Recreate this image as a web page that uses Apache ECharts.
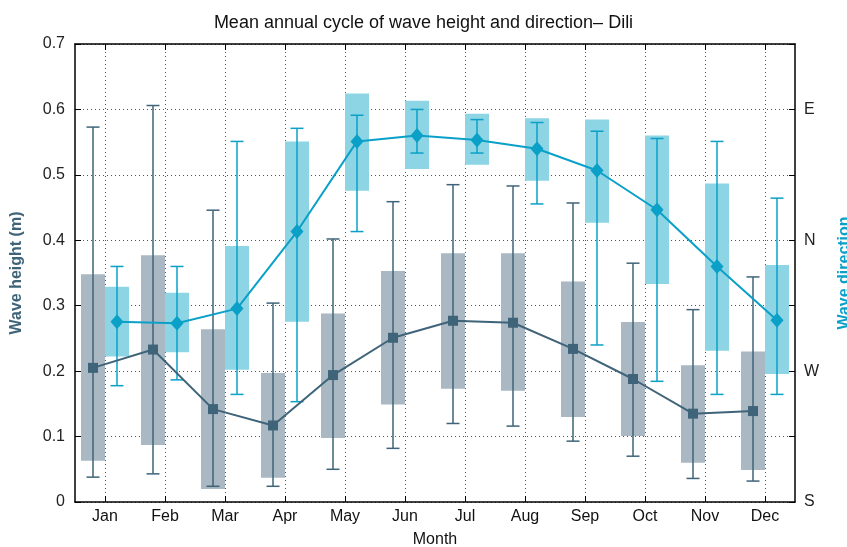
<!DOCTYPE html>
<html>
<head>
<meta charset="utf-8">
<script src="https://cdn.jsdelivr.net/npm/echarts@6/dist/echarts.min.js"></script>
<style>html,body{margin:0;padding:0;background:#fff}#c{width:847px;height:547px}</style>
</head>
<body>
<div id="c"></div>
<script>
const months = ['Jan','Feb','Mar','Apr','May','Jun','Jul','Aug','Sep','Oct','Nov','Dec'];
// Wave height (m)
const hMedian = [0.205,0.233,0.142,0.117,0.194,0.251,0.277,0.274,0.234,0.188,0.135,0.139];
const hBoxLow = [0.063,0.087,0.020,0.037,0.098,0.149,0.173,0.170,0.130,0.101,0.060,0.049];
const hBoxHigh = [0.348,0.377,0.264,0.197,0.288,0.353,0.380,0.380,0.337,0.275,0.209,0.230];
const hWhiskLow = [0.038,0.043,0.024,0.024,0.050,0.082,0.120,0.116,0.093,0.070,0.036,0.032];
const hWhiskHigh = [0.573,0.606,0.446,0.304,0.402,0.459,0.485,0.483,0.457,0.365,0.294,0.344];
// Wave direction (degrees, unwrapped: S=180, W=270, N=360, E=450)
const dMean = [304,303,313,366,428,432,429,423,408,381,342,305];
const dBoxLow = [280,283,271,304,394,409,412,401,372,330,284,268];
const dBoxHigh = [328,324,356,428,461,456,447,444,443,432,399,343];
const dWhiskLow = [260,264,254,249,366,420,420,385,288,263,254,254];
const dWhiskHigh = [342,342,428,437,446,450,443,441,435,430,428,389];
const dirTickLabels = {180:'S',270:'W',360:'N',450:'E'};

const grayBox = '#a9b8c2', grayLine = '#3f6479';
const cyanBox = '#8dd5e4', cyanLine = '#0aa0c8';
const FONT = '"Liberation Sans", Arial, Helvetica, sans-serif';

function makeBoxRender(color, boxColor, side){
  return function(params, api){
    const i = api.value(0);
    const bw = api.size([1,0])[0];
    const off = side * bw * 0.2;
    const half = bw * 0.2;
    const pHi = api.coord([i, api.value(2)]);
    const pLo = api.coord([i, api.value(1)]);
    const wHi = api.coord([i, api.value(4)]);
    const wLo = api.coord([i, api.value(3)]);
    const cx = pHi[0] + off;
    const cap = 6.5;
    return {
      type: 'group',
      children: [
        {type:'rect', shape:{x:cx-half, y:pHi[1], width:half*2, height:pLo[1]-pHi[1]}, style:{fill:boxColor}, z2:1},
        {type:'line', shape:{x1:cx, y1:wHi[1], x2:cx, y2:wLo[1]}, style:{stroke:color, lineWidth:1.5}, z2:2},
        {type:'line', shape:{x1:cx-cap, y1:wHi[1], x2:cx+cap, y2:wHi[1]}, style:{stroke:color, lineWidth:1.5}, z2:2},
        {type:'line', shape:{x1:cx-cap, y1:wLo[1], x2:cx+cap, y2:wLo[1]}, style:{stroke:color, lineWidth:1.5}, z2:2}
      ]
    };
  };
}

const hBoxData = months.map((m,i)=>[i, hBoxLow[i], hBoxHigh[i], hWhiskLow[i], hWhiskHigh[i]]);
const dBoxData = months.map((m,i)=>[i, dBoxLow[i], dBoxHigh[i], dWhiskLow[i], dWhiskHigh[i]]);
const hLineData = hMedian.map((v,i)=>[i + 0.5 - 0.2, v]);
const dLineData = dMean.map((v,i)=>[i + 0.5 + 0.2, v]);

const dotted = {show:true, lineStyle:{color:'#555', type:[1,3], width:1}};
const chart = echarts.init(document.getElementById('c'));
chart.setOption({
  animation:false,
  backgroundColor:'#fff',
  textStyle:{fontFamily:FONT},
  title:{text:'Mean annual cycle of wave height and direction\u2013 Dili', left:'center', top:9,
    textStyle:{fontFamily:FONT, fontSize:18, fontWeight:'normal', color:'#111'}},
  grid:{left:75, right:52, top:44, bottom:45, containLabel:false, outerBoundsMode:'none'},
  xAxis:[
    {type:'category', data:months, position:'bottom', boundaryGap:true,
      axisLine:{show:true, lineStyle:{color:'#000', width:1.5}},
      axisTick:{show:true, inside:true, alignWithLabel:true, length:6, lineStyle:{color:'#000'}},
      axisLabel:{fontSize:16, color:'#111', margin:7, fontFamily:FONT},
      splitLine:Object.assign({alignWithLabel:true}, dotted),
      name:'Month', nameLocation:'middle', nameGap:30,
      nameTextStyle:{fontSize:16, color:'#111', fontFamily:FONT}},
    {type:'category', data:months, position:'top', boundaryGap:true,
      axisLine:{show:true, lineStyle:{color:'#000', width:1.5}},
      axisTick:{show:true, inside:true, alignWithLabel:true, length:6, lineStyle:{color:'#000'}},
      axisLabel:{show:false}, splitLine:{show:false}},
    {type:'value', min:0, max:12, show:false, position:'bottom'}
  ],
  yAxis:[
    {type:'value', min:0, max:0.7, interval:0.1, position:'left',
      axisLine:{show:true, lineStyle:{color:'#000', width:1.5}},
      axisTick:{show:true, inside:true, length:6, lineStyle:{color:'#000'}},
      axisLabel:{fontSize:16, color:'#222', margin:10, fontFamily:FONT,
        formatter:v=> v===0 ? '0' : v.toFixed(1)},
      splitLine:dotted,
      name:'Wave height (m)', nameLocation:'middle', nameGap:50, nameRotate:90,
      nameTextStyle:{fontSize:16, fontWeight:'bold', color:grayLine, fontFamily:FONT}},
    {type:'value', min:180, max:495, interval:45, position:'right',
      axisLine:{show:true, lineStyle:{color:'#000', width:1.5}},
      axisTick:{show:true, inside:true, length:6, lineStyle:{color:'#000'}},
      axisLabel:{fontSize:16, color:'#222', margin:9, fontFamily:FONT,
        formatter:v=> dirTickLabels[v] || ''},
      splitLine:{show:false},
      name:'Wave direction', nameLocation:'middle', nameGap:42, nameRotate:90,
      nameTextStyle:{fontSize:16, fontWeight:'bold', color:cyanLine, fontFamily:FONT}}
  ],
  series:[
    {type:'custom', xAxisIndex:0, yAxisIndex:0, data:hBoxData, renderItem:makeBoxRender(grayLine, grayBox, -1),
      encode:{x:0, y:[1,2,3,4]}, z:2, silent:true},
    {type:'custom', xAxisIndex:0, yAxisIndex:1, data:dBoxData, renderItem:makeBoxRender(cyanLine, cyanBox, 1),
      encode:{x:0, y:[1,2,3,4]}, z:2, silent:true},
    {type:'line', xAxisIndex:2, yAxisIndex:0, data:hLineData, symbol:'rect', symbolSize:10,
      lineStyle:{color:grayLine, width:2}, itemStyle:{color:grayLine}, z:5, silent:true},
    {type:'line', xAxisIndex:2, yAxisIndex:1, data:dLineData, symbol:'diamond', symbolSize:[13,15],
      lineStyle:{color:cyanLine, width:2}, itemStyle:{color:cyanLine}, z:5, silent:true}
  ]
});
</script>
</body>
</html>
